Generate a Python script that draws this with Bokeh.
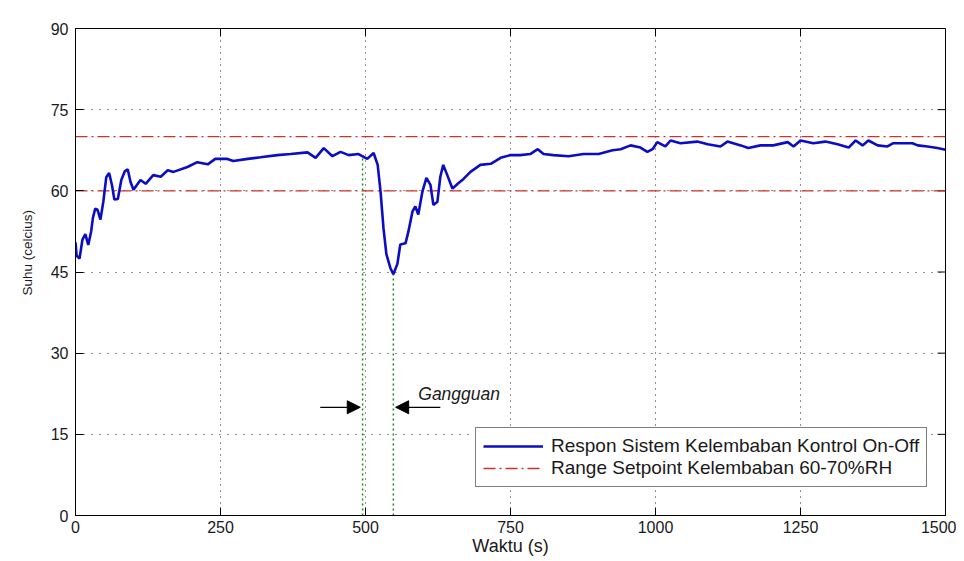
from bokeh.plotting import figure
from bokeh.models import (Range1d, FixedTicker, Arrow, NormalHead,
                          Legend, LegendItem, Label, Title)
from bokeh.embed import file_html
from bokeh.resources import INLINE

# ---- data ----
time_s = [0, 2, 7, 12, 17, 22, 27, 30, 34, 38, 43, 48, 53, 58, 63, 67, 73, 79, 85, 90,
          95, 100, 112, 121, 134, 147, 159, 169, 193, 210, 228, 241, 262, 272, 297, 319,
          348, 371, 400, 414, 428, 443, 457, 471, 488, 503, 514, 521, 526, 531, 536, 543,
          548, 555, 560, 569, 574, 581, 586, 591, 598, 605, 612, 617, 624, 629, 634, 641,
          650, 659, 669, 681, 698, 716, 733, 750, 767, 784, 797, 807, 824, 850, 876, 902,
          926, 940, 957, 974, 986, 995, 1003, 1017, 1026, 1043, 1072, 1090, 1112, 1124,
          1147, 1160, 1181, 1203, 1228, 1238, 1250, 1272, 1293, 1314, 1333, 1345, 1357,
          1367, 1383, 1400, 1410, 1428, 1443, 1452, 1469, 1486, 1500]
humidity = [50.5, 48.0, 47.5, 51.0, 52.0, 50.0, 52.5, 55.0, 56.7, 56.5, 54.7, 58.0, 62.5,
            63.3, 61.0, 58.4, 58.5, 62.0, 63.6, 64.0, 61.6, 60.2, 62.0, 61.3, 62.9, 62.6,
            63.8, 63.5, 64.4, 65.3, 64.9, 65.9, 65.9, 65.5, 65.9, 66.2, 66.6, 66.8, 67.1,
            66.1, 67.9, 66.4, 67.2, 66.6, 66.8, 65.9, 67.0, 64.8, 59.8, 53.1, 48.3, 45.7,
            44.6, 46.5, 50.1, 50.3, 52.5, 56.2, 57.1, 55.6, 59.8, 62.4, 61.1, 57.4, 58.0,
            62.6, 64.8, 62.9, 60.4, 61.3, 62.2, 63.5, 64.8, 65.0, 66.1, 66.6, 66.6, 66.8,
            67.7, 66.8, 66.6, 66.4, 66.8, 66.8, 67.5, 67.7, 68.4, 68.0, 67.2, 67.7, 69.0,
            68.2, 69.3, 68.8, 69.1, 68.6, 68.2, 69.1, 68.4, 67.9, 68.4, 68.4, 69.0, 68.2,
            69.3, 68.8, 69.1, 68.6, 68.0, 69.3, 68.4, 69.3, 68.4, 68.2, 68.8, 68.8, 68.8,
            68.4, 68.2, 67.9, 67.6]
setpoint_x = [0, 1500]
setpoint_low = [60, 60]
setpoint_high = [70, 70]
x_ticks = [0, 250, 500, 750, 1000, 1250, 1500]
y_ticks = [0, 15, 30, 45, 60, 75, 90]
disturb_t = [495, 548]
disturb_bottom = [0, 0]
disturb_top = [66.6, 44.6]
arrow_y = 20
arrow_left_x = [422, 491]
arrow_right_x = [629, 552]
label_text = "Gangguan"
label_x = 591
label_y = 22.5
x_title = "Waktu (s)"
y_title = "Suhu (celcius)"
legend_labels = ["Respon Sistem Kelembaban Kontrol On-Off",
                 "Range Setpoint Kelembaban 60-70%RH"]

FONT = "Liberation Sans"
X0, X1, Y0, Y1 = 0, 1500, 0, 90
FRAME_W, FRAME_H, TICK_PX = 870, 487, 8

p = figure(width=956, height=561, output_backend="svg", toolbar_location=None,
           x_range=Range1d(X0, X1), y_range=Range1d(Y0, Y1),
           min_border_left=75, min_border_right=11, min_border_top=28,
           min_border_bottom=46, background_fill_color="white",
           border_fill_color="white")
p.outline_line_color = "black"
p.outline_line_width = 1

# axes
for ax in (p.xaxis[0], p.yaxis[0]):
    ax.axis_line_color = "black"
    ax.major_tick_in = TICK_PX
    ax.major_tick_out = 0
    ax.minor_tick_in = 0
    ax.minor_tick_out = 0
    ax.major_tick_line_color = "black"
    ax.major_label_text_font = FONT
    ax.major_label_text_font_size = "16px"
    ax.major_label_text_color = "#1a1a1a"
    ax.axis_label_text_font = FONT
    ax.axis_label_text_font_style = "normal"
    ax.axis_label_text_color = "#1a1a1a"

p.xaxis.ticker = FixedTicker(ticks=x_ticks)
p.yaxis.ticker = FixedTicker(ticks=y_ticks)
p.xaxis.axis_label = x_title
p.xaxis.axis_label_text_font_size = "18px"
p.xaxis.major_label_standoff = 5
p.xaxis.axis_label_standoff = 0
p.yaxis.major_label_standoff = 7

# y title as a side title so it can sit slightly above the axis middle
p.add_layout(Title(text=y_title, align="left", offset=220, text_font=FONT,
                   text_font_size="13.5px", text_font_style="normal",
                   text_color="#1a1a1a", standoff=26), "left")

# mirrored tick marks on the right and top edges of the box
dx = (X1 - X0) * TICK_PX / FRAME_W
dy = (Y1 - Y0) * TICK_PX / FRAME_H
p.segment(x0=[X1] * len(y_ticks), y0=y_ticks, x1=[X1 - dx] * len(y_ticks), y1=y_ticks,
          line_color="black", line_width=1)
p.segment(x0=x_ticks, y0=[Y1] * len(x_ticks), x1=x_ticks, y1=[Y1 - dy] * len(x_ticks),
          line_color="black", line_width=1)

# grid
p.xgrid.grid_line_color = "#222222"
p.xgrid.grid_line_dash = "1 5"
p.xgrid.grid_line_width = 1
p.ygrid.grid_line_color = "#222222"
p.ygrid.grid_line_dash = "1 7"
p.ygrid.grid_line_width = 1

# disturbance drop lines
p.segment(x0=disturb_t, y0=disturb_bottom, x1=disturb_t, y1=disturb_top,
          line_color="#1f8a1f", line_dash="2 3", line_width=1.5)

# setpoint range
red = "#d0302a"
r_sp1 = p.line(setpoint_x, setpoint_high, line_color=red, line_width=1.3,
               line_dash="12 4 2 4")
r_sp2 = p.line(setpoint_x, setpoint_low, line_color=red, line_width=1.3,
               line_dash="12 4 2 4")

# response
r_resp = p.line(time_s, humidity, line_color="#0c0cc4", line_width=2.6)

# arrows and label
p.add_layout(Arrow(end=NormalHead(size=13, fill_color="black", line_color="black"),
                   x_start=arrow_left_x[0], y_start=arrow_y,
                   x_end=arrow_left_x[1], y_end=arrow_y, line_width=1.3))
p.add_layout(Arrow(end=NormalHead(size=13, fill_color="black", line_color="black"),
                   x_start=arrow_right_x[0], y_start=arrow_y,
                   x_end=arrow_right_x[1], y_end=arrow_y, line_width=1.3))
p.add_layout(Label(x=label_x, y=label_y, text=label_text, text_font=FONT,
                   text_font_style="italic", text_font_size="17.5px",
                   text_baseline="middle", text_color="#1a1a1a"))

legend = Legend(items=[LegendItem(label=legend_labels[0], renderers=[r_resp]),
                       LegendItem(label=legend_labels[1], renderers=[r_sp1])],
                location=(400, 28))
legend.border_line_color = "black"
legend.border_line_width = 1
legend.background_fill_color = "white"
legend.background_fill_alpha = 1
legend.label_text_font = FONT
legend.label_text_font_size = "19px"
legend.label_text_color = "#1a1a1a"
legend.label_height = 18
legend.glyph_width = 60
legend.glyph_height = 16
legend.label_standoff = 8
legend.padding = 7
legend.spacing = 0
legend.margin = 0
p.add_layout(legend)

open("out.html", "w").write(file_html(p, INLINE))
